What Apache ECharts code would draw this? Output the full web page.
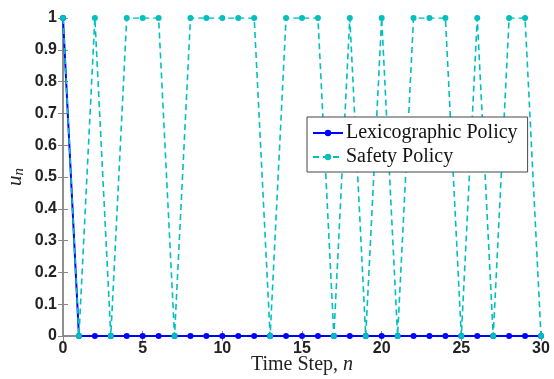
<!DOCTYPE html>
<html>
<head>
<meta charset="utf-8">
<script src="https://cdn.jsdelivr.net/npm/echarts@6/dist/echarts.min.js"></script>
<style>
  html, body { margin: 0; padding: 0; background: #fff; }
  #chart { width: 554px; height: 379px; }
</style>
</head>
<body>
<div id="chart"></div>
<script>
// time steps 0..30
const steps = [0,1,2,3,4,5,6,7,8,9,10,11,12,13,14,15,16,17,18,19,20,21,22,23,24,25,26,27,28,29,30];
const lexicographic = [1,0,0,0,0,0,0,0,0,0,0,0,0,0,0,0,0,0,0,0,0,0,0,0,0,0,0,0,0,0,0];
const safety = [1,0,1,0,1,1,1,0,1,1,1,1,1,0,1,1,1,0,1,0,1,0,1,1,1,0,1,0,1,1,0];

const axisColor = "#888";
const tickFont = { color: "#222", fontWeight: "bold", fontSize: 16, fontFamily: "Liberation Sans" };

const pairs = (ys) => steps.map((x, i) => [x, ys[i]]);

const option = {
  animation: false,
  grid: { left: 63, right: 13, top: 18, bottom: 43, outerBoundsMode: "none" },
  legend: {
    orient: "vertical",
    left: 307,
    top: 117,
    itemWidth: 30,
    itemHeight: 8,
    itemGap: 4,
    padding: [6, 10, 5, 5],
    backgroundColor: "#fff",
    borderColor: "#444",
    borderWidth: 1,
    textStyle: { fontFamily: "Liberation Serif", fontSize: 20, color: "#111", padding: [0, 0, 0, -2] },
    data: ["Lexicographic Policy", "Safety Policy"],
  },
  xAxis: [
    {
      type: "value", min: 0, max: 30, interval: 5,
      name: "Time Step, {i|n}",
      nameLocation: "middle", nameGap: 19, nameMoveOverlap: false,
      nameTextStyle: {
        fontFamily: "Liberation Serif", fontSize: 20, color: "#222", verticalAlign: "top",
        rich: { i: { fontFamily: "Liberation Serif", fontStyle: "italic", fontSize: 20, color: "#222" } },
      },
      axisLine: { show: true, lineStyle: { color: axisColor, width: 1.5 } },
      axisTick: { inside: true, length: 5, lineStyle: { color: axisColor } },
      axisLabel: Object.assign({ margin: 5 }, tickFont),
      splitLine: { show: false },
    },
    {
      type: "value", min: 0, max: 30, interval: 5, position: "top",
      axisLine: { show: true, lineStyle: { color: axisColor, width: 1.5 } },
      axisTick: { inside: true, length: 5, lineStyle: { color: axisColor } },
      axisLabel: { show: false },
      splitLine: { show: false },
    },
  ],
  yAxis: [
    {
      type: "value", min: 0, max: 1, interval: 0.1,
      name: "{u|u}{n|n}",
      nameLocation: "middle", nameGap: 36, nameRotate: 90, nameMoveOverlap: false,
      nameTextStyle: {
        rich: {
          u: { fontFamily: "Liberation Serif", fontStyle: "italic", fontSize: 21, color: "#222" },
          n: { fontFamily: "Liberation Serif", fontStyle: "italic", fontSize: 15, color: "#222", verticalAlign: "bottom", padding: [8, 0, 0, 0] },
        },
      },
      axisLine: { show: true, lineStyle: { color: axisColor, width: 1.5 } },
      axisTick: { inside: true, length: 5, lineStyle: { color: axisColor } },
      axisLabel: Object.assign({ margin: 6, formatter: (v) => String(+v.toFixed(1)) }, tickFont),
      splitLine: { show: false },
    },
    {
      type: "value", min: 0, max: 1, interval: 0.1, position: "right",
      axisLine: { show: true, lineStyle: { color: axisColor, width: 1.5 } },
      axisTick: { inside: true, length: 5, lineStyle: { color: axisColor } },
      axisLabel: { show: false },
      splitLine: { show: false },
    },
  ],
  series: [
    {
      name: "Lexicographic Policy",
      type: "line",
      data: pairs(lexicographic),
      symbol: "circle",
      symbolSize: 6,
      color: "#0000ff",
      lineStyle: { color: "#0000ff", width: 2 },
      itemStyle: { color: "#0000ff" },
    },
    {
      name: "Safety Policy",
      type: "line",
      data: pairs(safety),
      symbol: "circle",
      symbolSize: 6,
      color: "#00bfbf",
      lineStyle: { color: "#00bfbf", width: 1.6, type: [6, 4] },
      itemStyle: { color: "#00bfbf" },
    },
  ],
};

const myChart = echarts.init(document.getElementById("chart"));
myChart.setOption(option);
</script>
</body>
</html>
